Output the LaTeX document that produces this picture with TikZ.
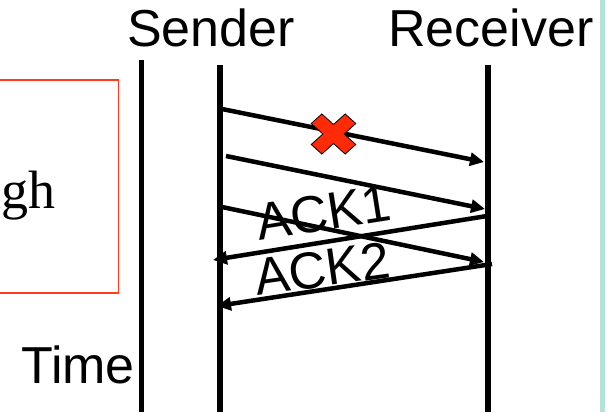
\documentclass[tikz,border=0pt]{standalone}
\usepackage{fontspec}
\setmainfont{Liberation Sans}
\newfontfamily\timesfont{Liberation Serif}
\usetikzlibrary{arrows.meta}

\definecolor{boxred}{RGB}{255,60,30}
\definecolor{lossred}{RGB}{255,42,8}
\definecolor{stripgreen}{RGB}{180,228,213}

\tikzset{
    lifeline/.style={line width=5.5pt},
    msg/.style={line width=4.5pt, -{Triangle[length=14pt,width=13pt]}},
    big/.style={font=\fontsize{52}{60}\selectfont, inner sep=0pt},
}

\begin{document}
\begin{tikzpicture}[x=1pt, y=-1pt]
    \useasboundingbox (0,0) rectangle (612,412);

    % box on the left and the strip on the right
    \draw[boxred, line width=1.5pt] (-20,80) rectangle (118.5,293);
    \node[big, font=\timesfont\fontsize{54}{60}\selectfont, anchor=base east] (word) at (56,208) {ugh};
    \fill[stripgreen] (600,0) rectangle (605,412);

    % these are the lifelines
    \coordinate (timetop) at (141.5,60);
    \coordinate (timebot) at (141.5,412);
    \coordinate (sendtop) at (220,65);
    \coordinate (sendbot) at (220,412);
    \coordinate (recvtop) at (488,65);
    \coordinate (recvbot) at (488,412);
    \draw[lifeline] (timetop) -- (timebot);
    \draw[lifeline] (sendtop) -- (sendbot);
    \draw[lifeline] (recvtop) -- (recvbot);

    \node[big, anchor=base] (sender) at (211,47) {Sender};
    \node[big, anchor=base] (receiver) at (491,47) {Receiver};
    \node[big, anchor=base west] (time) at (21,383) {Time};

    % these are the packets and the acks
    \coordinate (p1) at (222,109);
    \coordinate (q1) at (484,162);
    \coordinate (p2) at (226,156);
    \coordinate (q2) at (485,209);
    \coordinate (p3) at (222,207);
    \coordinate (q3) at (484,262);
    \coordinate (a1) at (487,216);
    \coordinate (b1) at (213,260);
    \coordinate (a2) at (492,264);
    \coordinate (b2) at (217,306);

    \draw[msg] (p1) -- (q1);
    \draw[msg] (p2) -- (q2);
    \draw[msg] (p3) -- (q3);
    \draw[msg] (a1) -- (b1);
    \draw[msg] (a2) -- (b2);

    \node[big, rotate=9, anchor=base west] (ack1) at (259,241) {ACK1};
    \node[big, rotate=8, anchor=base west] (ack2) at (257,296) {ACK2};

    % the lost packet
    \begin{scope}[shift={(333.5,134)}, yscale=0.9, rotate=45]
        \draw[fill=lossred, line width=0.8pt, line join=miter]
            (7.5,24) -- (7.5,7.5) -- (24,7.5) -- (24,-7.5) -- (7.5,-7.5) -- (7.5,-24)
            -- (-7.5,-24) -- (-7.5,-7.5) -- (-24,-7.5) -- (-24,7.5) -- (-7.5,7.5) -- (-7.5,24) -- cycle;
    \end{scope}

\end{tikzpicture}
\end{document}
